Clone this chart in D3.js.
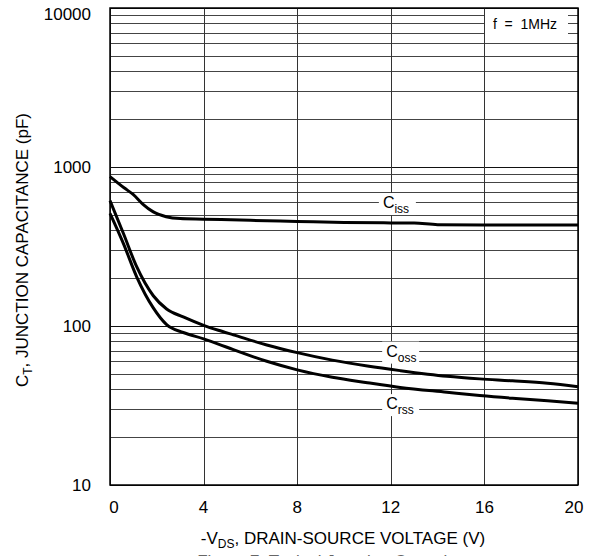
<!DOCTYPE html>
<html>
<head>
<meta charset="utf-8">
<script src="https://cdn.jsdelivr.net/npm/d3@7"></script>
<style>
  body { margin: 0; background: #fff; }
  svg { display: block; font-family: "Liberation Sans", Arial, sans-serif; }
</style>
</head>
<body>
<svg id="chart" width="593" height="556"></svg>
<script>
// DATA
var voltTicks = [0, 4, 8, 12, 16, 20];
var capTicks = [10, 100, 1000, 10000];

var cissV = [0, 0.6, 1, 1.4, 1.85, 2.4, 3, 4, 6, 8, 10, 12, 13, 14, 16, 20];
var cissC = [870, 740, 670, 585, 522, 487, 474, 470, 462, 455, 448, 445, 444, 434, 432, 432];

var cossV = [0, 0.57, 1.14, 1.85, 2.42, 3.13, 4, 4.63, 5.27, 6.7, 8, 9.5, 11, 12.4, 14.4, 15.8, 17.2, 18.7, 20];
var cossC = [614, 383, 236, 155, 128, 114, 101, 94, 88, 76, 68, 61, 56, 52.4, 48.3, 46.5, 45.2, 43.6, 41.5];

var crssV = [0, 0.57, 1.14, 1.85, 2.42, 3.13, 4, 4.63, 5.27, 6.7, 8, 9.5, 11, 12.4, 14.4, 15.8, 17.2, 18.7, 20];
var crssC = [511, 331, 204, 130, 102, 91, 83, 77, 71, 60, 53, 47.6, 44, 41.1, 38.3, 36.5, 35.1, 33.9, 32.7];

// curve labels: main letter, subscript, anchor (V, pF)
var curveLabels = [
  {main: "C", sub: "iss", v: 12.26, c: 585},
  {main: "C", sub: "oss", v: 12.4, c: 68},
  {main: "C", sub: "rss", v: 12.4, c: 31.8}
];

// GEOMETRY
var margin = {top: 8, left: 110, right: 15, bottom: 71};
var gwidth = 593, gheight = 556;
var width = gwidth - margin.left - margin.right,
    height = gheight - margin.top - margin.bottom;

var svg = d3.select("#chart");
var chart = svg.append("g")
  .attr("transform", "translate(" + margin.left + "," + margin.top + ")");

var x = d3.scaleLinear().domain([0, 20]).range([0, width]);
var y = d3.scaleLog().domain([10, 10000]).range([height, 0]);

// grid: every 1..9 in each decade
var minor = [];
for (var d = 10; d < 10000; d *= 10) {
  for (var k = 2; k <= 9; k++) minor.push(d * k);
}
var grid = chart.append("g").attr("shape-rendering", "crispEdges");
grid.selectAll(".hminor").data(minor).enter().append("line")
  .attr("x1", 0).attr("x2", width)
  .attr("y1", function(d) { return Math.round(y(d)) + 0.5; })
  .attr("y2", function(d) { return Math.round(y(d)) + 0.5; })
  .attr("stroke", "#444").attr("stroke-width", 1);
grid.selectAll(".hmajor").data(capTicks).enter().append("line")
  .attr("x1", 0).attr("x2", width)
  .attr("y1", function(d) { return Math.round(y(d)) + 0.5; })
  .attr("y2", function(d) { return Math.round(y(d)) + 0.5; })
  .attr("stroke", "#111").attr("stroke-width", 1);
grid.selectAll(".vgrid").data(voltTicks).enter().append("line")
  .attr("y1", 0).attr("y2", height)
  .attr("x1", function(d) { return Math.round(x(d)) + 0.5; })
  .attr("x2", function(d) { return Math.round(x(d)) + 0.5; })
  .attr("stroke", "#333").attr("stroke-width", 1);

// curves
var line = d3.line()
  .x(function(d) { return x(d[0]); })
  .y(function(d) { return y(d[1]); })
  .curve(d3.curveMonotoneX);
var series = [
  d3.zip(cissV, cissC),
  d3.zip(cossV, cossC),
  d3.zip(crssV, crssC)
];
chart.selectAll(".curve").data(series).enter().append("path")
  .attr("d", line)
  .attr("fill", "none")
  .attr("stroke", "#000")
  .attr("stroke-width", 3)
  .attr("stroke-linejoin", "round");

// curve labels on white boxes
curveLabels.forEach(function(l) {
  var cx = x(l.v), cy = y(l.c);
  var g = chart.append("g").attr("transform", "translate(" + cx + "," + cy + ")");
  g.append("rect")
    .attr("x", -18).attr("y", -11).attr("width", 37).attr("height", 22)
    .attr("fill", "#fff");
  var t = g.append("text").attr("x", -14).attr("y", 4).attr("fill", "#000");
  t.append("tspan").attr("font-size", "16px").text(l.main);
  t.append("tspan").attr("font-size", "12px").attr("dy", 5).text(l.sub);
});

// f = 1MHz box
var fg = chart.append("g");
fg.append("rect")
  .attr("x", 375).attr("y", 5)
  .attr("width", 83).attr("height", 22).attr("fill", "#fff");
fg.append("text")
  .attr("x", 415).attr("y", 21)
  .attr("text-anchor", "middle")
  .attr("font-size", "14px")
  .style("white-space", "pre")
  .text("f  =  1MHz");

// frame
chart.append("rect")
  .attr("x", 0).attr("y", 0).attr("width", width).attr("height", height)
  .attr("fill", "none").attr("stroke", "#000").attr("stroke-width", 1.5);

// tick labels
chart.selectAll(".ylab").data(capTicks).enter().append("text")
  .attr("x", -19)
  .attr("y", function(d) { return y(d) + (d === 10000 ? 12 : 6); })
  .attr("text-anchor", "end")
  .attr("font-size", "17px")
  .text(function(d) { return d; });
chart.selectAll(".xlab").data(voltTicks).enter().append("text")
  .attr("x", function(d) { return x(d) + (d === 0 ? 4 : d === 20 ? -4 : 0); })
  .attr("y", height + 28)
  .attr("text-anchor", "middle")
  .attr("font-size", "17px")
  .text(function(d) { return d; });

// axis titles
var xt = svg.append("text")
  .attr("x", 343).attr("y", 544)
  .attr("text-anchor", "middle")
  .attr("font-size", "17px");
xt.append("tspan").text("-V");
xt.append("tspan").attr("font-size", "12px").attr("dy", 4).text("DS");
xt.append("tspan").attr("dy", -4).text(", DRAIN-SOURCE VOLTAGE (V)");

var yt = svg.append("text")
  .attr("transform", "translate(28,250) rotate(-90)")
  .attr("text-anchor", "middle")
  .attr("font-size", "17px");
yt.append("tspan").text("C");
yt.append("tspan").attr("font-size", "12px").attr("dy", 4).text("T");
yt.append("tspan").attr("dy", -4).text(", JUNCTION CAPACITANCE (pF)");

// caption, cut off by the page edge as in the source figure
svg.append("text")
  .attr("x", 343).attr("y", 567)
  .attr("text-anchor", "middle")
  .attr("font-size", "17px")
  .attr("fill", "#666")
  .text("Figure 7. Typical Junction Capacitance");
</script>
</body>
</html>
